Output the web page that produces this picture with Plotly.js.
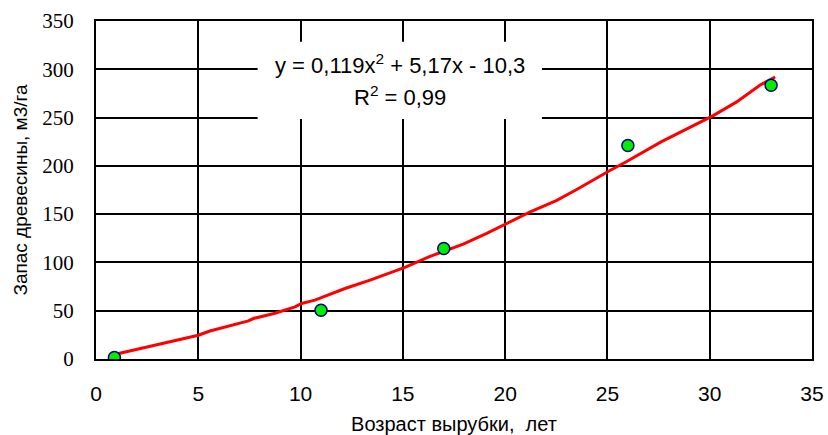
<!DOCTYPE html>
<html>
<head>
<meta charset="utf-8">
<script src="https://cdn.plot.ly/plotly-3.0.1.min.js"></script>
<style>html,body{margin:0;padding:0;background:#fff;}#chart{width:828px;height:435px;}</style>
</head>
<body>
<div id="chart"></div>
<script>
// Observed data points
const ageYears = [0.9, 11, 17, 26, 33];
const stockM3 = [1.5, 50.5, 114.5, 221, 283.5];

// Trend line
const trendX = [0.95, 3, 5.0, 5.57, 7.45, 7.69, 8.75, 9.73, 10.05, 10.7, 11.5, 12.17, 13.4, 15.1, 16.3, 17.06, 17.95, 19.1, 20.07, 21.2, 22.5, 23.5, 25.1, 25.9, 27.6, 29.2, 30.17, 31.3, 32.45, 33.2];
const trendY = [4.9, 14.5, 24.6, 29, 39.5, 41.9, 47.4, 54, 57.5, 61, 67.8, 73, 81.7, 94.8, 106, 112, 119, 130, 139.8, 152, 164, 175.5, 195, 204, 224.6, 242, 252, 266, 283.5, 292];

const xTitle = 'Возраст вырубки,  лет';
const yTitle = 'Запас древесины, м3/га';
const eqLine1 = 'y = 0,119x<sup>2</sup> + 5,17x - 10,3';
const eqLine2 = 'R<sup>2</sup> = 0,99';

const traces = [
  {
    x: trendX, y: trendY, type: 'scatter', mode: 'lines',
    line: {color: '#ff0000', width: 3}, hoverinfo: 'skip', showlegend: false
  },
  {
    x: ageYears, y: stockM3, type: 'scatter', mode: 'markers',
    marker: {color: '#00ee00', size: 12, line: {color: '#000080', width: 1.5}},
    showlegend: false
  }
];

const layout = {
  width: 828, height: 435,
  margin: {l: 96, r: 16, t: 21, b: 76},
  paper_bgcolor: '#ffffff', plot_bgcolor: '#ffffff',
  showlegend: false,
  xaxis: {
    range: [0, 35], dtick: 5, tick0: 0,
    showgrid: true, gridcolor: '#000000', gridwidth: 2,
    showline: true, linecolor: '#000000', linewidth: 2, mirror: true,
    zeroline: false, ticks: '', ticklabelstandoff: 15,
    tickfont: {family: 'Liberation Sans, Arial, sans-serif', size: 21, color: '#000'},
    title: {text: xTitle, font: {family: 'Liberation Sans, Arial, sans-serif', size: 20, color: '#000'}, standoff: 26}
  },
  yaxis: {
    range: [0, 350], dtick: 50, tick0: 0,
    showgrid: true, gridcolor: '#000000', gridwidth: 2,
    showline: true, linecolor: '#000000', linewidth: 2, mirror: true,
    zeroline: false, ticks: '', ticklabelstandoff: 16,
    tickfont: {family: 'Liberation Serif, Times New Roman, serif', size: 21, color: '#000'},
    title: {text: yTitle, font: {family: 'Liberation Sans, Arial, sans-serif', size: 19, color: '#000'}, standoff: 10}
  },
  shapes: [
    {type: 'rect', xref: 'x', yref: 'y', x0: 7.9, x1: 21.8, y0: 248.5, y1: 328.5,
     fillcolor: '#ffffff', line: {width: 0}, layer: 'above'}
  ],
  annotations: [
    {xref: 'x', yref: 'y', x: 14.85, y: 305, text: eqLine1, showarrow: false,
     font: {family: 'Liberation Sans, Arial, sans-serif', size: 22, color: '#000'}},
    {xref: 'x', yref: 'y', x: 14.85, y: 272, text: eqLine2, showarrow: false,
     font: {family: 'Liberation Sans, Arial, sans-serif', size: 22, color: '#000'}}
  ]
};

Plotly.newPlot('chart', traces, layout, {staticPlot: true, displayModeBar: false});
</script>
</body>
</html>
